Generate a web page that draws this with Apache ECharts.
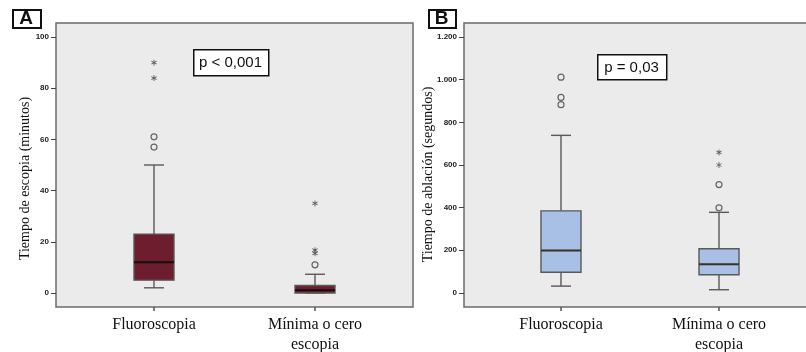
<!DOCTYPE html>
<html>
<head>
<meta charset="utf-8">
<script src="https://cdn.jsdelivr.net/npm/echarts@6/dist/echarts.min.js"></script>
<style>
  html, body { margin: 0; padding: 0; background: #fff; }
  #main { width: 806px; height: 352px; }
</style>
</head>
<body>
<div id="main"></div>
<script>
var categories = ['Fluoroscopia', 'Mínima o cero\nescopia'];

// [min whisker, Q1, median, Q3, max whisker]
var boxA = [[2, 5, 12, 23, 50], [0, 0, 1, 2.9, 7.3]];
var circlesA = [[0, 61], [0, 57], [1, 11]];
var starsA = [[0, 90], [0, 84], [1, 35], [1, 16.7], [1, 15.5]];
var ticksA = [0, 20, 40, 60, 80, 100];

var boxB = [[32, 97, 199, 385, 739], [15, 85, 135, 207, 378]];
var circlesB = [[0, 1012], [0, 917], [0, 883], [1, 508], [1, 399]];
var starsB = [[1, 659], [1, 600]];
var ticksB = [0, 200, 400, 600, 800, 1000, 1200];

var myChart = echarts.init(document.getElementById('main'));

var starPath = 'path://M-0.7,-5L0.7,-5L0.7,5L-0.7,5Z' +
    'M-4.68,-1.89L-3.98,-3.11L4.68,1.89L3.98,3.11Z' +
    'M3.98,-3.11L4.68,-1.89L-3.98,3.11L-4.68,1.89Z';

function boxRenderer(fill, medianColor) {
    return function (params, api) {
        var x = api.value(0);
        var lo = api.coord([x, api.value(1)]);
        var q1 = api.coord([x, api.value(2)]);
        var med = api.coord([x, api.value(3)]);
        var q3 = api.coord([x, api.value(4)]);
        var hi = api.coord([x, api.value(5)]);
        var cx = lo[0], half = 20, cap = 10;
        var ln = { stroke: '#595959', lineWidth: 1.4 };
        return {
            type: 'group',
            children: [
                { type: 'line', shape: { x1: cx, y1: lo[1], x2: cx, y2: q1[1] }, style: ln },
                { type: 'line', shape: { x1: cx, y1: q3[1], x2: cx, y2: hi[1] }, style: ln },
                { type: 'line', shape: { x1: cx - cap, y1: lo[1], x2: cx + cap, y2: lo[1] }, style: ln },
                { type: 'line', shape: { x1: cx - cap, y1: hi[1], x2: cx + cap, y2: hi[1] }, style: ln },
                { type: 'rect', shape: { x: cx - half, y: q3[1], width: half * 2, height: q1[1] - q3[1] },
                  style: { fill: fill, stroke: '#595959', lineWidth: 1.4 } },
                { type: 'line', shape: { x1: cx - half, y1: med[1], x2: cx + half, y2: med[1] },
                  style: { stroke: medianColor, lineWidth: 2 } }
            ]
        };
    };
}

function withIndex(rows) {
    return rows.map(function (d, i) { return [i].concat(d); });
}

function thousands(v) {
    var s = String(v);
    return s.length > 3 ? s.slice(0, s.length - 3) + '.' + s.slice(s.length - 3) : s;
}

var serif = 'Liberation Serif';
var sans = 'Liberation Sans';

function outerY(min, max, ticks, fmt) {
    return {
        type: 'value', min: min, max: max,
        splitLine: { show: false },
        axisLine: { show: false },
        axisTick: { show: true, length: 5, customValues: ticks, lineStyle: { color: '#444', width: 1 } },
        axisLabel: {
            customValues: ticks, margin: 7, fontSize: 8, fontWeight: 'bold',
            fontFamily: sans, color: '#222', formatter: fmt
        }
    };
}

function innerY(min, max) {
    return { type: 'value', min: min, max: max, show: false };
}

function catX(gridIndex) {
    return {
        type: 'category', gridIndex: gridIndex, data: categories,
        axisLine: { show: false, onZero: false },
        axisTick: { show: true, alignWithLabel: true, length: 4, lineStyle: { color: '#555', width: 1.5 } },
        axisLabel: { margin: 8, fontSize: 16, fontFamily: serif, color: '#111', lineHeight: 20 }
    };
}

var yA0 = outerY(-5.5, 105.5, ticksA, function (v) { return v; });
var yB0 = outerY(-66, 1266, ticksB, thousands);
yB0.gridIndex = 2;

option = {
    animation: false,
    grid: [
        { left: 56, top: 23, width: 357, height: 284, show: true, backgroundColor: '#ebebeb',
          borderColor: '#6b6b6b', borderWidth: 1.5, outerBoundsMode: 'none' },
        { left: 73.5, top: 23, width: 322, height: 284, outerBoundsMode: 'none' },
        { left: 464, top: 23, width: 370, height: 284, show: true, backgroundColor: '#ebebeb',
          borderColor: '#6b6b6b', borderWidth: 1.5, outerBoundsMode: 'none' },
        { left: 482, top: 23, width: 316, height: 284, outerBoundsMode: 'none' }
    ],
    xAxis: [
        { type: 'value', gridIndex: 0, min: 0, max: 1, show: false },
        catX(1),
        { type: 'value', gridIndex: 2, min: 0, max: 1, show: false },
        catX(3)
    ],
    yAxis: [
        yA0,
        Object.assign(innerY(-5.5, 105.5), { gridIndex: 1 }),
        yB0,
        Object.assign(innerY(-66, 1266), { gridIndex: 3 })
    ],
    series: [
        { type: 'custom', xAxisIndex: 1, yAxisIndex: 1, data: withIndex(boxA),
          encode: { x: 0, y: [1, 2, 3, 4, 5] }, renderItem: boxRenderer('#6e1d2e', '#111') },
        { type: 'scatter', xAxisIndex: 1, yAxisIndex: 1, data: circlesA, symbol: 'circle', symbolSize: 6,
          itemStyle: { color: 'rgba(0,0,0,0)', borderColor: '#444', borderWidth: 1.2 } },
        { type: 'scatter', xAxisIndex: 1, yAxisIndex: 1, data: starsA, symbol: starPath, symbolSize: 6,
          symbolKeepAspect: true, itemStyle: { color: '#333' } },
        { type: 'custom', xAxisIndex: 3, yAxisIndex: 3, data: withIndex(boxB),
          encode: { x: 0, y: [1, 2, 3, 4, 5] }, renderItem: boxRenderer('#a8bfe6', '#3b3026') },
        { type: 'scatter', xAxisIndex: 3, yAxisIndex: 3, data: circlesB, symbol: 'circle', symbolSize: 6,
          itemStyle: { color: 'rgba(0,0,0,0)', borderColor: '#444', borderWidth: 1.2 } },
        { type: 'scatter', xAxisIndex: 3, yAxisIndex: 3, data: starsB, symbol: starPath, symbolSize: 6,
          symbolKeepAspect: true, itemStyle: { color: '#333' } }
    ],
    graphic: [
        { type: 'rect', left: 12, top: 9, shape: { width: 28, height: 18 },
          style: { fill: '#fff', stroke: '#111', lineWidth: 2 } },
        { type: 'text', x: 26, y: 19, style: { text: 'A', font: 'bold 19px Liberation Sans', fill: '#111',
          align: 'center', verticalAlign: 'middle' } },
        { type: 'rect', left: 428, top: 9, shape: { width: 27, height: 18 },
          style: { fill: '#fff', stroke: '#111', lineWidth: 2 } },
        { type: 'text', x: 441.5, y: 19, style: { text: 'B', font: 'bold 19px Liberation Sans', fill: '#111',
          align: 'center', verticalAlign: 'middle' } },
        { type: 'rect', left: 193, top: 49, shape: { width: 75, height: 26 },
          style: { fill: '#fff', stroke: '#111', lineWidth: 1.5 } },
        { type: 'text', x: 230.5, y: 63, style: { text: 'p < 0,001', font: '15px Liberation Sans', fill: '#111',
          align: 'center', verticalAlign: 'middle' } },
        { type: 'rect', left: 597, top: 54, shape: { width: 69, height: 25 },
          style: { fill: '#fff', stroke: '#111', lineWidth: 1.5 } },
        { type: 'text', x: 631.5, y: 67.5, style: { text: 'p = 0,03', font: '15px Liberation Sans', fill: '#111',
          align: 'center', verticalAlign: 'middle' } },
        { type: 'text', x: 25, y: 178.5, rotation: Math.PI / 2,
          style: { text: 'Tiempo de escopia (minutos)', font: '14px Liberation Serif', fill: '#111',
          align: 'center', verticalAlign: 'middle' } },
        { type: 'text', x: 428, y: 174.5, rotation: Math.PI / 2,
          style: { text: 'Tiempo de ablación (segundos)', font: '14px Liberation Serif', fill: '#111',
          align: 'center', verticalAlign: 'middle' } }
    ]
};
myChart.setOption(option);
</script>
</body>
</html>
